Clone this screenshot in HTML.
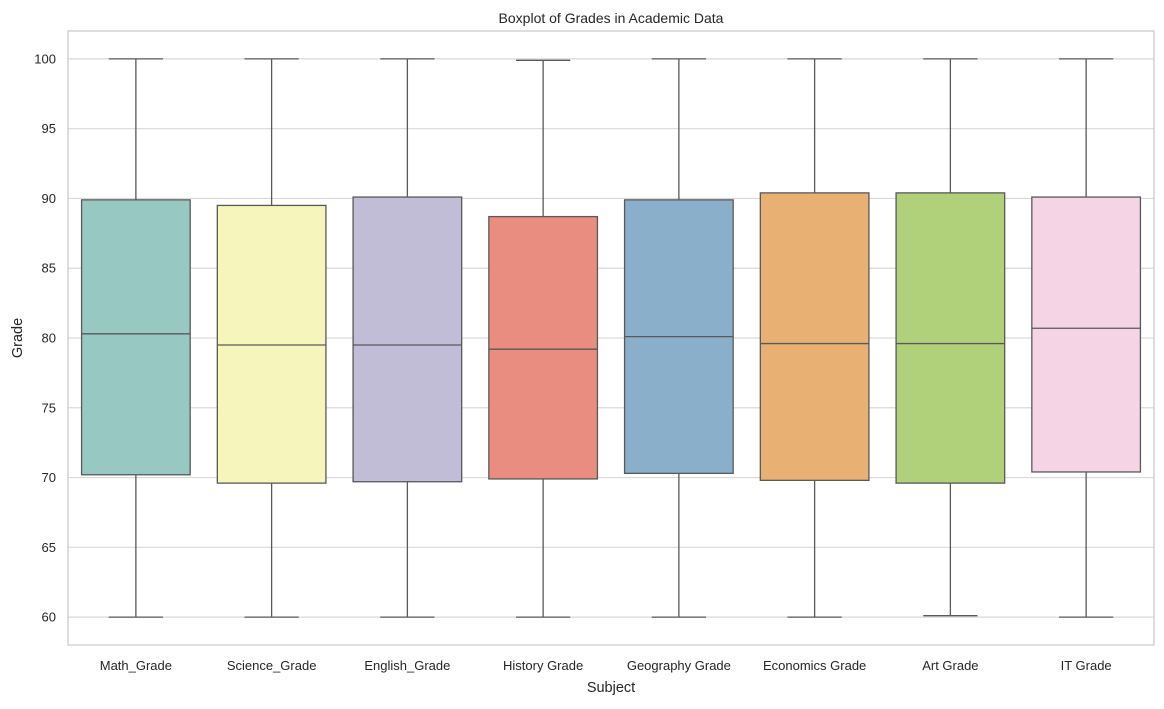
<!DOCTYPE html>
<html><head><meta charset="utf-8"><style>
body{margin:0;background:#fff;font-family:"Liberation Sans",sans-serif;}
svg text{font-family:"Liberation Sans",sans-serif;fill:#262626;}
</style></head><body>
<svg id="chart" width="1164" height="704">
<rect x="0" y="0" width="1164" height="704" fill="#fff"/>
<g id="grid"></g><g id="boxes"></g><g id="axes"></g>
</svg>
<script>
const categories=["Math_Grade","Science_Grade","English_Grade","History Grade","Geography Grade","Economics Grade","Art Grade","IT Grade"];
const mins=[60,60,60,60,60,60,60.1,60];
const q1s=[70.2,69.6,69.7,69.9,70.3,69.8,69.6,70.4];
const medians=[80.3,79.5,79.5,79.2,80.1,79.6,79.6,80.7];
const q3s=[89.9,89.5,90.1,88.7,89.9,90.4,90.4,90.1];
const maxs=[100,100,100,99.9,100,100,100,100];
const colors=["#97c9c2","#f6f5bb","#c1bdd6","#e98d81","#8aafca","#e9b073","#b0d07a","#f5d4e5"];
const yTicks=[60,65,70,75,80,85,90,95,100];
const L=68,R=1154,T=31,B=645,yMin=58,yMax=102;
const x=i=>L+(i+0.5)*(R-L)/categories.length;
const y=v=>B-(v-yMin)/(yMax-yMin)*(B-T);
const NS="http://www.w3.org/2000/svg";
function mk(tag,attrs,parent,txt){const e=document.createElementNS(NS,tag);for(const k in attrs)e.setAttribute(k,attrs[k]);if(txt!==undefined)e.textContent=txt;document.getElementById(parent).appendChild(e);return e;}
yTicks.forEach(t=>{
 const g=mk('line',{x1:L,x2:R,y1:y(t),y2:y(t),stroke:'#d9d9d9','stroke-width':1.2},'grid');
 
 
 const tl=mk('text',{x:L-12,y:y(t)+4.5,'text-anchor':'end','font-size':13},'axes',t);
 
 
});
const bw=0.8*(R-L)/categories.length;
categories.forEach((c,i)=>{
 const cx=x(i);
 const st={stroke:'#595959','stroke-width':1.3};
 const w1=mk('line',Object.assign({x1:cx,x2:cx,y1:y(q1s[i]),y2:y(mins[i])},st),'boxes');
 
 
 const w2=mk('line',Object.assign({x1:cx,x2:cx,y1:y(q3s[i]),y2:y(maxs[i])},st),'boxes');
 
 
 const c1=mk('line',Object.assign({x1:cx-bw/4,x2:cx+bw/4,y1:y(mins[i]),y2:y(mins[i])},st),'boxes');
 
 
 const c2=mk('line',Object.assign({x1:cx-bw/4,x2:cx+bw/4,y1:y(maxs[i]),y2:y(maxs[i])},st),'boxes');
 
 
 const b=mk('rect',Object.assign({x:cx-bw/2,y:y(q3s[i]),width:bw,height:y(q1s[i])-y(q3s[i]),fill:colors[i]},st),'boxes');
 
 
 const m=mk('line',Object.assign({x1:cx-bw/2,x2:cx+bw/2,y1:y(medians[i]),y2:y(medians[i])},st),'boxes');
 
 
 const xl=mk('text',{x:cx,y:B+25,'text-anchor':'middle','font-size':13},'axes',c);
 
 
});
const f=mk('rect',{x:L,y:T,width:R-L,height:B-T,fill:'none',stroke:'#cccccc','stroke-width':1.3},'axes');


const ti=mk('text',{x:(L+R)/2,y:T-8,'text-anchor':'middle','font-size':14},'axes','Boxplot of Grades in Academic Data');


const xt=mk('text',{x:(L+R)/2,y:B+47,'text-anchor':'middle','font-size':14.5},'axes','Subject');


const yt=mk('text',{x:0,y:0,'text-anchor':'middle','font-size':14.5,transform:`translate(22,${(T+B)/2}) rotate(-90)`},'axes','Grade');


</script>
</body></html>
